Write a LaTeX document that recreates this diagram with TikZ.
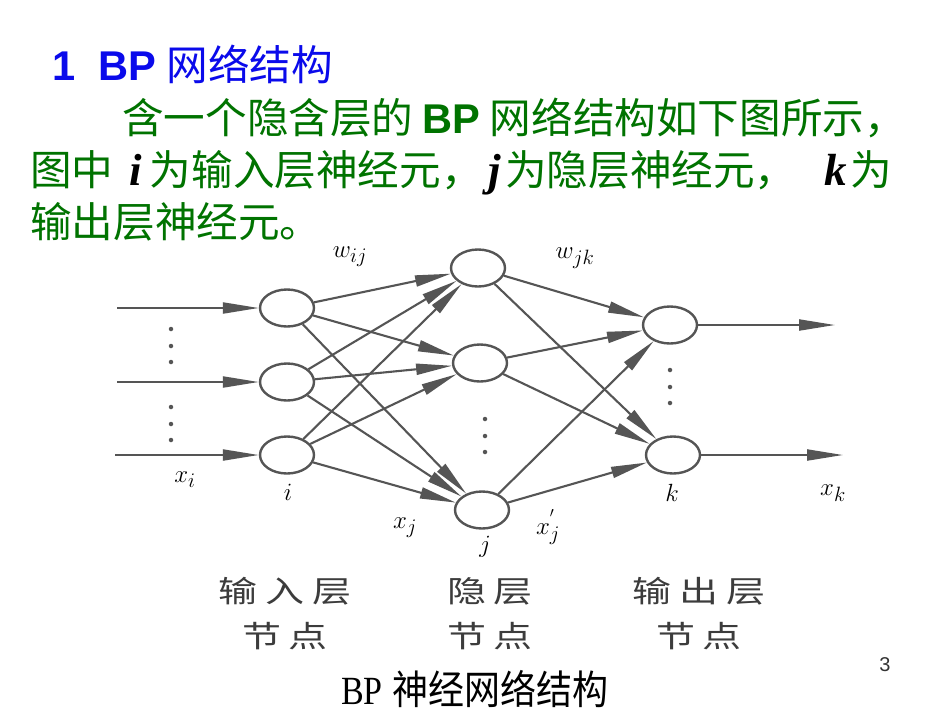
\documentclass[tikz,border=0pt]{standalone}
\usepackage{fontspec}
\setmainfont{Liberation Serif}
\newfontfamily\cjk{Noto Sans CJK SC}
\newfontfamily\cjkwide[LetterSpace=26, FakeStretch=1.3]{Noto Sans CJK SC}
\newfontfamily\cjknarrow[FakeStretch=0.9]{Noto Sans CJK SC}
\newfontfamily\serifnarrow[FakeStretch=0.85]{Liberation Serif}
\newfontfamily\arial{Liberation Sans}
\newfontfamily\ijk{Liberation Serif}
\usepackage{tikz}
\usetikzlibrary{shapes.geometric, arrows.meta, positioning}
\definecolor{titleblue}{RGB}{10,10,235}
\definecolor{textgreen}{RGB}{0,115,0}
\definecolor{netgray}{RGB}{85,85,85}
\definecolor{labelgray}{RGB}{60,60,60}
\newcommand{\ijkvar}[1]{{\color{black}\ijk\bfseries\itshape\fontsize{45}{52}\selectfont #1}}

\begin{document}
\begin{tikzpicture}[x=1pt, y=-1pt,
    neuron/.style={ellipse, draw=netgray, line width=2.4pt, minimum width=54pt,
                 minimum height=37pt, inner sep=0pt},
    link/.style={-{Triangle[length=36pt, width=11pt]}, draw=netgray, line width=2.1pt},
    vdot/.style={circle, fill=netgray, inner sep=0pt, minimum size=4.5pt},
    sym/.style={text=black, font=\fontsize{28}{30}\selectfont, inner sep=0pt},
    layer/.style={text=labelgray, font=\cjkwide\fontsize{30}{45}\selectfont,
                 align=center, inner sep=0pt},
    textline/.style={anchor=base west, inner sep=0pt, text=textgreen,
                 font=\fontsize{41.6}{52}\selectfont}
]
    \fill[white] (0,0) rectangle (950,713);
    \useasboundingbox (0,0) rectangle (950,713);

    % heading and text
    \node[textline, text=titleblue] (title) at (52,80) {{\arial\bfseries 1\ \ BP} {\cjk 网络结构}};
    \node[textline] (line2) at (122,133) {\cjk 含一个隐含层的 {\arial\bfseries BP} 网络结构如下图所示，};
    \node[textline] (line3) at (30,185) {\cjk 图中\hspace{16pt}\ijkvar{i}\hspace{8pt}为输入层神经元，\hspace{6pt}\ijkvar{j}\hspace{4pt}为隐层神经元，\hspace{28pt}\ijkvar{k}\hspace{4pt}为};
    \node[textline] (line4) at (30,237) {\cjk 输出层神经元。};

    % neurons
    \node[neuron] (in1) at (287,308) {};
    \node[neuron] (in2) at (287,382) {};
    \node[neuron] (in3) at (287,455) {};
    \node[neuron] (hid1) at (478,268) {};
    \node[neuron] (hid2) at (480,363) {};
    \node[neuron] (hid3) at (482,510) {};
    \node[neuron] (out1) at (670,325) {};
    \node[neuron] (out2) at (673,455) {};

    \coordinate (src1) at (117,308);
    \coordinate (src2) at (117,382);
    \coordinate (src3) at (115,455);
    \coordinate (dst1) at (835,325);
    \coordinate (dst2) at (843,455);

    % input and output arrows
    \draw[link] (src1) -- (in1);
    \draw[link] (src2) -- (in2);
    \draw[link] (src3) -- (in3);
    \draw[link] (out1) -- (dst1);
    \draw[link] (out2) -- (dst2);

    % input -> hidden
    \draw[link] (in1) -- (hid1);
    \draw[link] (in1) -- (hid2);
    \draw[link] (in1) -- (hid3);
    \draw[link] (in2) -- (hid1);
    \draw[link] (in2) -- (hid2);
    \draw[link] (in2) -- (hid3);
    \draw[link] (in3) -- (hid1);
    \draw[link] (in3) -- (hid2);
    \draw[link] (in3) -- (hid3);

    % hidden -> output
    \draw[link] (hid1) -- (out1);
    \draw[link] (hid1) -- (out2);
    \draw[link] (hid2) -- (out1);
    \draw[link] (hid2) -- (out2);
    \draw[link] (hid3) -- (out1);
    \draw[link] (hid3) -- (out2);

    % vertical dots
    \node[vdot] (da1) at (171,329) {};
    \node[vdot] (da2) at (171,346) {};
    \node[vdot] (da3) at (171,362) {};
    \node[vdot] (db1) at (171,407) {};
    \node[vdot] (db2) at (171,424) {};
    \node[vdot] (db3) at (171,440) {};
    \node[vdot] (dh1) at (485,419) {};
    \node[vdot] (dh2) at (485,436) {};
    \node[vdot] (dh3) at (485,452) {};
    \node[vdot] (do1) at (670,370) {};
    \node[vdot] (do2) at (670,387) {};
    \node[vdot] (do3) at (670,403) {};

    % symbols
    \node[sym] (wij) at (350,257) {$w_{ij}$};
    \node[sym] (wjk) at (575,258) {$w_{jk}$};
    \node[sym] (xi) at (185,480) {$x_i$};
    \node[sym] (ilab) at (288,492) {$i$};
    \node[sym] (xj) at (405,528) {$x_j$};
    \node[sym] (jlab) at (485,547) {$j$};
    \node[sym] (xjp) at (548,527) {$x_j^{'}$};
    \node[sym] (klab) at (672,493) {$k$};
    \node[sym] (xk) at (833,493) {$x_k$};

    % layer names
    \node[layer] (inname) at (285,614) {输入层\\节点};
    \node[layer] (hidname) at (490,614) {隐层\\节点};
    \node[layer] (outname) at (699,614) {输出层\\节点};

    % caption and page number
    \node[anchor=base, inner sep=0pt, font=\fontsize{40}{42}\selectfont] (caption) at (475,704)
        {{\serifnarrow BP} {\cjknarrow 神经网络结构}};
    \node[inner sep=0pt, text=black!80, font=\arial\fontsize{20}{22}\selectfont] (pagenum) at (885,665) {3};
\end{tikzpicture}
\end{document}
